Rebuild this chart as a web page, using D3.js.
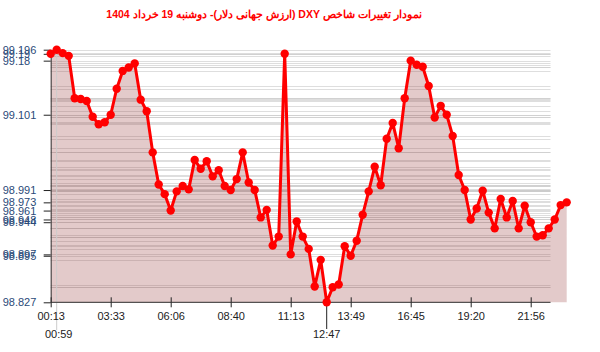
<!DOCTYPE html>
<html><head><meta charset="utf-8">
<script src="https://cdn.jsdelivr.net/npm/d3@7"></script>
<style>
body{margin:0;background:#fff;}
svg{display:block;font-family:"Liberation Sans",Arial,sans-serif;}
</style></head>
<body><svg id="c" width="600" height="352"></svg>
<script>
const title = "نمودار تغییرات شاخص DXY (ارزش جهانی دلار)- دوشنبه  19 خرداد 1404";
const values = [
 99.190,99.196,99.191,99.187,99.125,99.124,99.121,99.098,99.087,99.090,
 99.101,99.139,99.165,99.170,99.176,99.123,99.106,99.046,98.999,98.985,
 98.961,98.989,98.997,98.992,99.035,99.022,99.033,99.011,99.020,98.997,
 98.991,99.007,99.046,99.002,98.991,98.951,98.962,98.910,98.923,99.190,
 98.897,98.945,98.923,98.905,98.850,98.889,98.827,98.849,98.853,98.909,
 98.895,98.917,98.955,98.989,99.025,98.998,99.066,99.089,99.052,99.125,
 99.180,99.174,99.171,99.143,99.097,99.114,99.101,99.070,99.013,98.991,
 98.948,98.964,98.990,98.958,98.935,98.978,98.951,98.975,98.935,98.968,
 98.944,98.923,98.925,98.935,98.948,98.969,98.973
];
const tickIndex = [0,10,20,30,40,50,60,70,80];
const tickLabels = ["00:13","03:33","06:06","08:40","11:13","13:49","16:45","19:20","21:56"];
const maxIndex = 1, maxLabel = "00:59";
const minIndex = 46, minLabel = "12:47";
const yTicks = [99.196,99.190,99.18,99.101,98.991,98.973,98.961,98.948,98.944,98.897,98.895,98.827];

const svg = d3.select("#c");
const x = d3.scaleLinear().domain([0, values.length-1]).range([50.7, 566.7]);
const y = d3.scaleLinear().domain([d3.min(values), d3.max(values)]).range([302.3, 49.7]);
const gridRight = 550.5;

// title
svg.append("text").attr("x",264).attr("y",18).attr("text-anchor","middle")
  .attr("fill","#ff0000").attr("font-weight","bold").attr("font-size","10.5px")
  .attr("direction","rtl").text(title);

// gridlines at each data value
svg.append("g").selectAll("line").data(values).join("line")
  .attr("x1",x(0)).attr("x2",gridRight)
  .attr("y1",d=>Math.round(y(d))+0.5).attr("y2",d=>Math.round(y(d))+0.5)
  .attr("stroke","#c8c8c8").attr("stroke-opacity",0.6);

// area
const area = d3.area().x((d,i)=>x(i)).y0(y.range()[0]).y1(d=>y(d));
svg.append("path").datum(values).attr("d",area)
  .attr("fill","rgb(150,60,60)").attr("fill-opacity",0.27);

// max marker vertical line
svg.append("line").attr("x1",x(maxIndex)).attr("x2",x(maxIndex))
  .attr("y1",y.range()[1]).attr("y2",330).attr("stroke","#ccc");

// x axis
const xAxis = d3.axisBottom(x).tickValues(tickIndex)
  .tickFormat((d,i)=>tickLabels[i]).tickSizeOuter(0).tickSize(5);
const gx = svg.append("g").attr("transform","translate(0,302.3)").call(xAxis);
gx.select(".domain").remove();
gx.selectAll(".tick line").attr("y1",-5).attr("stroke","#222");
gx.selectAll(".tick text").attr("y",10).attr("fill","#222").attr("font-size","11px")
  .attr("font-family","'Liberation Sans',Arial,sans-serif");
svg.append("line").attr("x1",x(0)).attr("x2",gridRight).attr("y1",302.3).attr("y2",302.3)
  .attr("stroke","#333");

// min marker tick + label
svg.append("line").attr("x1",x(minIndex)).attr("x2",x(minIndex))
  .attr("y1",302.3).attr("y2",329).attr("stroke","#222");
svg.append("text").attr("x",x(minIndex)).attr("y",338).attr("text-anchor","middle")
  .attr("font-size","11px").attr("fill","#222").text(minLabel);
svg.append("text").attr("x",x(maxIndex)+2).attr("y",338).attr("text-anchor","middle")
  .attr("font-size","11px").attr("fill","#222").text(maxLabel);

// y axis
const yAxis = d3.axisLeft(y).tickValues(yTicks).tickFormat(d=>String(d)).tickSize(7).tickSizeOuter(0);
const gy = svg.append("g").attr("transform","translate(50.7,0)").call(yAxis);
gy.select(".domain").attr("stroke","#333");
gy.selectAll(".tick line").attr("stroke","#222");
gy.selectAll(".tick text").attr("x",-48).attr("text-anchor","start").attr("fill","#2a4a78")
  .attr("font-size","11px").attr("font-family","'Liberation Sans',Arial,sans-serif");

// line
const line = d3.line().x((d,i)=>x(i)).y(d=>y(d));
svg.append("path").datum(values).attr("d",line).attr("fill","none")
  .attr("stroke","#ff0000").attr("stroke-width",3).attr("stroke-linejoin","round");
svg.append("g").selectAll("circle").data(values).join("circle")
  .attr("cx",(d,i)=>x(i)).attr("cy",d=>y(d)).attr("r",4.2).attr("fill","#ff0000");
</script></body></html>
